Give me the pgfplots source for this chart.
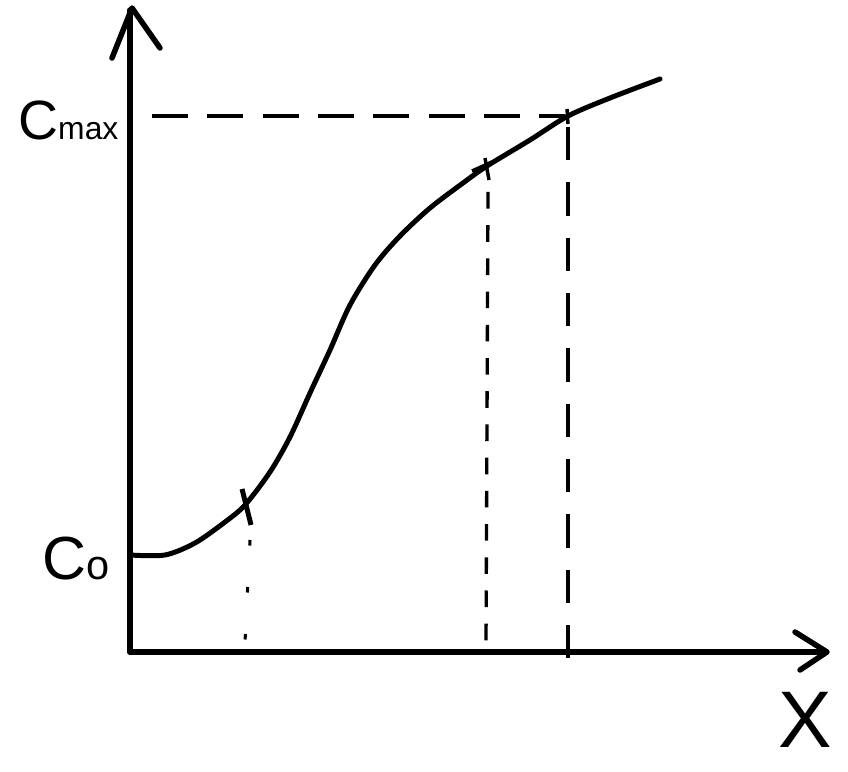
\documentclass[border=0pt]{standalone}
\usepackage{pgfplots}
\pgfplotsset{compat=1.18}
\usepackage{fontspec}
\setmainfont{Liberation Sans}
\begin{document}
\begin{tikzpicture}
\begin{axis}[
  width=8.48in, height=7.72in, scale only axis,
  xmin=0, xmax=848, ymin=0, ymax=772,
  hide axis, clip=false,
]
% frame for bounding box
\addplot[draw=none] coordinates {(0,0) (848,772)};
% y axis with arrow (pixel y converted: 772 - py)
\addplot[black, line width=4pt, line cap=round, line join=round] coordinates {(130,120) (130,762)};
\addplot[black, line width=4pt, line cap=round, line join=round] coordinates {(112,714) (132,764) (160,724)};
% x axis with arrow
\addplot[black, line width=4pt, line cap=round, line join=round] coordinates {(130,120) (826,120)};
\addplot[black, line width=4pt, line cap=round, line join=round] coordinates {(795,140) (827,120) (800,102)};
% curve
\addplot[black, line width=3.6pt, smooth, line cap=round] coordinates {
(130,217) (165,217) (195,229) (225,250) (245,267) (270,300) (290,335) (310,379)
(330,422) (350,467) (375,507) (400,536) (430,564) (463,589) (487,606)
(530,632) (568,656) (610,674) (660,693)};
% marks on curve
\addplot[black, line width=3.6pt] coordinates {(242,283) (251,247)};
\addplot[black, line width=2.5pt] coordinates {(240,262) (252,275)};
\addplot[black, line width=2.5pt] coordinates {(485,614) (489,592)};
\addplot[black, line width=2.5pt] coordinates {(472,601) (492,610)};
\addplot[black, line width=2.5pt] coordinates {(567,663) (568,648)};
% horizontal dashed at Cmax
\addplot[black, line width=3.4pt, dash pattern=on 26pt off 14pt] coordinates {(152,656) (565,656)};
% vertical dashed at x=568
\addplot[black, line width=3.4pt, dash pattern=on 24pt off 16pt] coordinates {(568,645) (568,106)};
% vertical small dashes at x=487
\addplot[black, line width=2.4pt, dash pattern=on 12pt off 12pt] coordinates {(488,580) (486,128)};
% vertical dotted at x=245
\addplot[black, line width=2.2pt, dash pattern=on 4pt off 30pt] coordinates {(250,232) (245,130)};
% labels
\node[anchor=base west, inner sep=0pt] at (axis cs:18,632) {\fontsize{40}{40}\selectfont C\fontsize{23}{23}\selectfont max};
\node[anchor=base west, inner sep=0pt] at (axis cs:42,192) {\fontsize{44}{44}\selectfont C\fontsize{30}{30}\selectfont o};
\node[anchor=center, inner sep=0pt] at (axis cs:805,52) {\fontsize{58}{58}\selectfont X};
\end{axis}
\end{tikzpicture}
\end{document}
